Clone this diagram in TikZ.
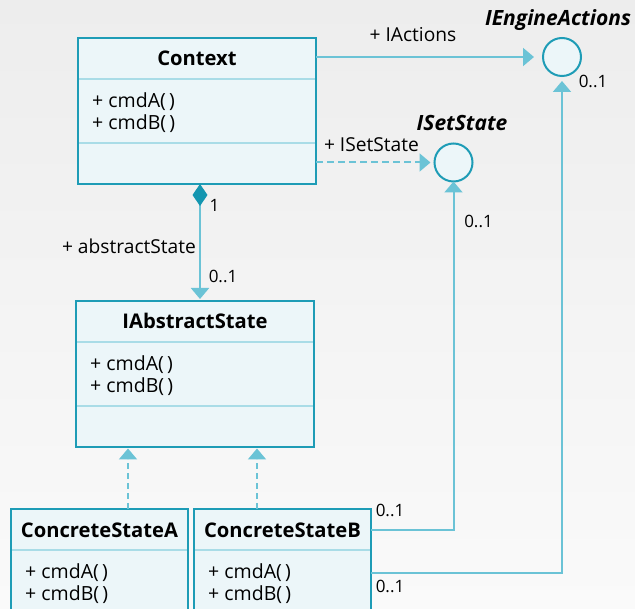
\documentclass[tikz,border=0pt]{standalone}
\usepackage{fontspec}
\setmainfont{Open Sans}
\usetikzlibrary{arrows.meta,calc}
\definecolor{boxline}{HTML}{1E9CB6}
\definecolor{boxfill}{HTML}{ECF6F9}
\definecolor{sepline}{HTML}{A9DCE7}
\definecolor{conn}{HTML}{6BC3D6}
\definecolor{compfill}{HTML}{1496B0}
\definecolor{bgtop}{HTML}{EDEDED}
\definecolor{bgbot}{HTML}{FAFAFA}
\begin{document}
\begin{tikzpicture}[x=1pt,y=-1pt,
  classbox/.style={draw=boxline, fill=boxfill, line width=2pt, inner sep=0pt, outer sep=0pt},
  iface/.style={circle, draw=boxline, fill=boxfill, line width=2pt, minimum size=38pt, inner sep=0pt, outer sep=0pt},
  sep/.style={draw=sepline, line width=1.5pt, shorten <=1pt, shorten >=1pt},
  title/.style={font=\fontsize{20.2}{24}\selectfont\bfseries, anchor=base, inner sep=0pt},
  member/.style={font=\fontsize{19.5}{22}\selectfont, anchor=base west, inner sep=0pt},
  lbl/.style={font=\fontsize{19.2}{22}\selectfont, anchor=base, inner sep=0pt},
  ititle/.style={font=\fontsize{21}{24}\selectfont\bfseries\itshape, anchor=base, inner sep=0pt},
  mult/.style={font=\fontsize{17}{20}\selectfont, anchor=base, inner sep=0pt},
  assoc/.style={draw=conn, line width=2pt, -{Triangle[length=11pt,width=18pt,fill=conn]}},
  dassoc/.style={assoc, dash pattern=on 7pt off 4pt},
  realize/.style={draw=conn, line width=2pt, dash pattern=on 6pt off 4pt, -{Triangle[length=11pt,width=18pt,fill=conn]}},
  comp/.style={draw=conn, line width=2pt, {Diamond[length=22pt,width=15pt,fill=compfill,color=compfill]}-{Triangle[length=11pt,width=18pt,fill=conn]}}
]
% page and backdrop
\useasboundingbox (0,0) rectangle (635,609);
\clip (0,0) rectangle (635,609);
\shade[top color=bgtop, bottom color=bgbot] (0,0) rectangle (635,609);

% ---- Context ----
\node[classbox, minimum width=238pt, minimum height=146pt] (ctx) at (197,111) {};
\draw[sep] (ctx.west |- 0,79) -- (ctx.east |- 0,79);
\draw[sep] (ctx.west |- 0,143) -- (ctx.east |- 0,143);
\node[title] (ctxT) at (197,66) {Context};
\node[member] (ctxA) at (92,108) {+ cmdA(\,)};
\node[member] (ctxB) at (92,130) {+ cmdB(\,)};

% ---- IAbstractState ----
\node[classbox, minimum width=238pt, minimum height=146pt] (abs) at (195,374) {};
\draw[sep] (abs.west |- 0,342) -- (abs.east |- 0,342);
\draw[sep] (abs.west |- 0,406) -- (abs.east |- 0,406);
\node[title] (absT) at (195,329) {IAbstractState};
\node[member] (absA) at (90,371) {+ cmdA(\,)};
\node[member] (absB) at (90,393) {+ cmdB(\,)};

% ---- ConcreteStateA ----
\node[classbox, minimum width=177pt, minimum height=131pt] (csa) at (99.5,574.5) {};
\draw[sep] (csa.west |- 0,550) -- (csa.east |- 0,550);
\node[title] (csaT) at (99.5,537) {ConcreteStateA};
\node[member] (csaA) at (25,578) {+ cmdA(\,)};
\node[member] (csaB) at (25,600) {+ cmdB(\,)};

% ---- ConcreteStateB ----
\node[classbox, minimum width=177pt, minimum height=131pt] (csb) at (282.5,574.5) {};
\draw[sep] (csb.west |- 0,550) -- (csb.east |- 0,550);
\node[title] (csbT) at (282.5,537) {ConcreteStateB};
\node[member] (csbA) at (208,578) {+ cmdA(\,)};
\node[member] (csbB) at (208,600) {+ cmdB(\,)};

% ---- interfaces ----
\node[iface] (ieng) at (562,57) {};
\node[ititle] (iengT) at (558,26) {IEngineActions};
\node[iface] (iset) at (453.5,162.5) {};
\node[ititle] (isetT) at (462,131) {ISetState};

% ---- connectors ----
\draw[assoc, shorten >=9pt] (ieng.west -| ctx.east) -- (ieng.west);
\node[lbl] (lIAct) at (413,42) {+ IActions};
\draw[dassoc, shorten >=4pt] (iset.west -| ctx.east) -- (iset.west);
\node[lbl] (lISet) at (371.5,152) {+ ISetState};

\draw[comp, shorten >=2pt] ([xshift=3pt]ctx.south) -- ([xshift=5pt]abs.north);
\node[mult] (m1) at (214.5,212) {1};
\node[lbl] (lAbs) at (129,254) {+ abstractState};
\node[mult] (m01a) at (223,283) {0..1};

\coordinate (ra) at ([xshift=52pt]abs.south west);
\coordinate (rb) at ([xshift=181pt]abs.south west);
\draw[realize, shorten >=1.5pt] (csa.north -| ra) -- (ra);
\draw[realize, shorten >=1.5pt] (csb.north -| rb) -- (rb);

\draw[assoc] ([yshift=-21pt]csb.north east) -| (iset.south);
\draw[assoc, shorten >=5pt] ([yshift=-64pt]csb.north east) -| (ieng.south);
\node[mult] (m01b) at (478.5,228) {0..1};
\node[mult] (m01c) at (593,88) {0..1};
\node[mult] (m01d) at (390,517) {0..1};
\node[mult] (m01e) at (390,592) {0..1};
\end{tikzpicture}
\end{document}
